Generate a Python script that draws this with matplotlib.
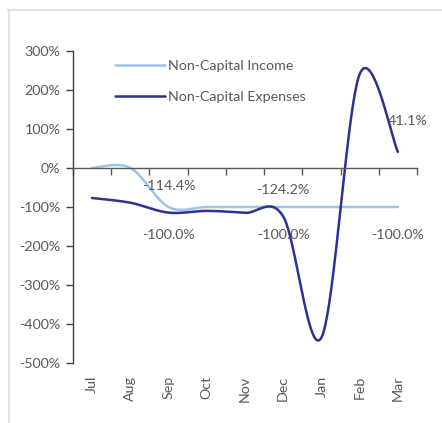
import numpy as np
import matplotlib
matplotlib.use("Agg")
import matplotlib.pyplot as plt
from matplotlib.lines import Line2D

months = ["Jul", "Aug", "Sep", "Oct", "Nov", "Dec", "Jan", "Feb", "Mar"]
income = [0.0, 0.0, -100.0, -100.0, -100.0, -100.0, -100.0, -100.0, -100.0]
expenses = [-77.0, -89.0, -114.4, -110.0, -115.0, -124.2, -434.0, 240.0, 41.1]
label_idx = [2, 5, 8]
income_labels = ["-100.0%", "-100.0%", "-100.0%"]
expense_labels = ["-114.4%", "-124.2%", "41.1%"]
yticks = [300, 200, 100, 0, -100, -200, -300, -400, -500]

TXT = "#595959"
C_INC = "#9DC3E6"
C_EXP = "#2E3192"
FS = 10.3
plt.rcParams['font.family'] = ['Lato', 'DejaVu Sans']


def smooth(xs, ys, n=40):
    """Excel-style smoothed line (Catmull-Rom Bezier, 1/6 tangents)."""
    P = np.column_stack([xs, ys]).astype(float)
    out = []
    m = len(P)
    for i in range(m - 1):
        p0 = P[i - 1] if i > 0 else P[i]
        p1 = P[i]
        p2 = P[i + 1]
        p3 = P[i + 2] if i + 2 < m else P[i + 1]
        c1 = p1 + (p2 - p0) / 6.0
        c2 = p2 - (p3 - p1) / 6.0
        t = np.linspace(0, 1, n)[:, None]
        seg = ((1 - t) ** 3) * p1 + 3 * ((1 - t) ** 2) * t * c1 + 3 * (1 - t) * t ** 2 * c2 + t ** 3 * p2
        out.append(seg if i == 0 else seg[1:])
    s = np.vstack(out)
    return s[:, 0], s[:, 1]


fig = plt.figure(figsize=(4.42, 4.23), dpi=100)
W, H = 442, 423
ax = fig.add_axes([73 / W, 1 - 363.3 / H, 344 / W, (363.3 - 50.7) / H])

x = np.arange(len(months))
xi, yi = smooth(x, income)
xe, ye = smooth(x, expenses)
ax.plot(xi, yi, color=C_INC, lw=1.8, solid_capstyle='round', label="Non-Capital Income")
ax.plot(xe, ye, color=C_EXP, lw=1.8, solid_capstyle='round', label="Non-Capital Expenses")

ax.set_xlim(-0.5, len(months) - 0.5)
ax.set_ylim(-500, 300)
ax.set_yticks(yticks)
ax.set_yticklabels([f"{v}%" for v in yticks])

for s in ["top", "right"]:
    ax.spines[s].set_visible(False)
ax.spines["left"].set_color("#404040")
ax.spines["left"].set_linewidth(1.0)
ax.spines["bottom"].set_position(("data", 0))
ax.spines["bottom"].set_color("#595959")
ax.spines["bottom"].set_linewidth(1.0)
ax.set_xticks(np.arange(-0.5, len(months), 1.0))
ax.tick_params(axis="x", direction="out", length=5, width=1, color="#595959", labelbottom=False)
ax.tick_params(axis="y", direction="out", length=5, width=1, color="#404040", labelsize=FS, labelcolor=TXT, pad=4)

sec = ax.secondary_xaxis(0)
sec.set_xticks(x)
sec.set_xticklabels(months, rotation=90, fontsize=FS, color=TXT)
sec.tick_params(length=0, pad=9)
sec.spines["bottom"].set_visible(False)

for k, i in enumerate(label_idx):
    ax.annotate(expense_labels[k], (x[i], expenses[i]), xytext=(0, 19) if i != 8 else (7, 22),
                textcoords="offset points", ha="center", va="center", fontsize=FS, color=TXT)
    ax.annotate(income_labels[k], (x[i], income[i]), xytext=(0, -20),
                textcoords="offset points", ha="center", va="center", fontsize=FS, color=TXT)

leg = ax.legend(loc="upper left", bbox_to_anchor=(0.10, 0.992), frameon=False, fontsize=FS,
                handlelength=3.5, handletextpad=0.25, labelspacing=1.3, borderpad=0, labelcolor=TXT)

fig.add_artist(Line2D([8 / W, 1], [1 - 10 / H, 1 - 10 / H], color="#E3E3E3", lw=1.6))
fig.add_artist(Line2D([9 / W, 9 / W], [0, 1 - 10 / H], color="#E3E3E3", lw=1.6))

fig.savefig("out.png", dpi=100, facecolor="white")
